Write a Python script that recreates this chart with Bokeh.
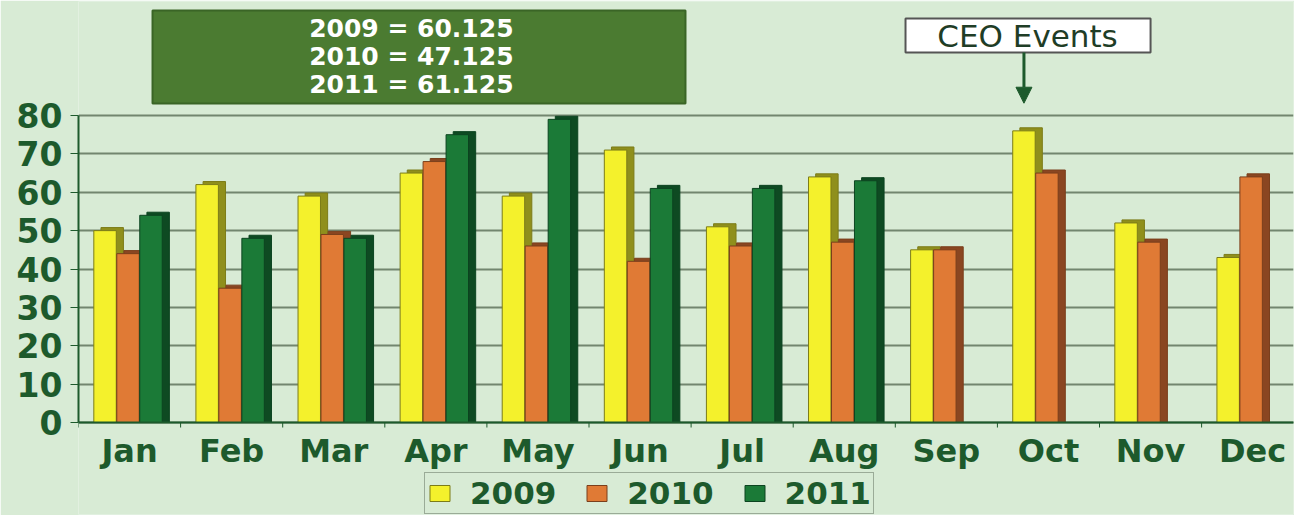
import numpy as np
from bokeh.plotting import figure
from bokeh.models import (ColumnDataSource, Range1d, FixedTicker, Legend, LegendItem,
                          Label, Arrow, NormalHead)
from bokeh.core.properties import value
from bokeh.embed import file_html
from bokeh.resources import INLINE

# ---------------- data ----------------
months = ["Jan", "Feb", "Mar", "Apr", "May", "Jun", "Jul", "Aug", "Sep", "Oct", "Nov", "Dec"]
years = ["2009", "2010", "2011"]
y2009 = [50, 62, 59, 65, 59, 71, 51, 64, 45, 76, 52, 43]
y2010 = [44, 35, 49, 68, 46, 42, 46, 47, 45, 65, 47, 64]
y2011 = [54, 48, 48, 75, 79, 61, 61, 63]          # Jan - Aug only
y_ticks = [0, 10, 20, 30, 40, 50, 60, 70, 80]
note_text = "CEO Events"
note_month = "Oct"

# ---------------- style ----------------
BG = "#d8ebd5"
DARK = "#1d5a2c"
GRID = "#72866f"
front_col = ["#f4f12c", "#e07a35", "#1b7a37"]
back_col = ["#8f8f1c", "#8a4621", "#0e4a22"]
line_col = ["#7c7c18", "#7a3f1c", "#0c4420"]
offsets = [-0.24, -0.015, 0.21]
bar_w = 0.22
dx, dy = 0.07, 0.8

W, H = 1294, 515
p = figure(width=W, height=H, output_backend="svg", toolbar_location=None,
           x_range=Range1d(0, 11.9), y_range=Range1d(-23.97, 109.71),
           min_border_left=78, min_border_right=1, min_border_top=1,
           min_border_bottom=1,
           background_fill_color=BG, border_fill_color=BG)
p.outline_line_color = None

series = [y2009, y2010, y2011]
front_renderers = []
for k, vals in enumerate(series):
    n = len(vals)
    xc = np.arange(n) + 0.5 + offsets[k]
    v = np.array(vals, dtype=float)
    src = ColumnDataSource(dict(x=xc, top=v, xb=xc + dx, topb=v + dy))
    p.vbar(x="xb", top="topb", bottom=0, width=bar_w, source=src,
           fill_color=back_col[k], line_color=line_col[k], line_width=1)
    r = p.vbar(x="x", top="top", bottom=0, width=bar_w, source=src,
               fill_color=front_col[k], line_color=line_col[k], line_width=1)
    front_renderers.append(r)

# ---------------- y axis ----------------
p.yaxis.ticker = FixedTicker(ticks=y_ticks)
p.yaxis.bounds = (0, 80)
p.yaxis.axis_line_color = DARK
p.yaxis.axis_line_width = 2
p.yaxis.major_tick_out = 8
p.yaxis.major_tick_in = 0
p.yaxis.major_tick_line_color = DARK
p.yaxis.minor_tick_line_color = None
p.yaxis.major_label_standoff = 8
p.yaxis.major_label_text_font = "DejaVu Sans"
p.yaxis.major_label_text_font_style = "bold"
p.yaxis.major_label_text_font_size = "33px"
p.yaxis.major_label_text_color = DARK

p.xgrid.grid_line_color = None
p.ygrid.grid_line_color = GRID
p.ygrid.grid_line_width = 2

# ---------------- month axis (drawn through the data scales) ----------------
p.xaxis.visible = False
edges = np.arange(len(months) + 1)
p.segment(x0=[0], y0=[0], x1=[len(months)], y1=[0], line_color=DARK, line_width=2)
p.segment(x0=edges, y0=np.zeros(len(edges)), x1=edges, y1=np.full(len(edges), -1.3),
          line_color=DARK, line_width=1)
msrc = ColumnDataSource(dict(x=np.arange(len(months)) + 0.5, y=np.full(len(months), -7.4),
                             text=months))
p.text(x="x", y="y", text="text", source=msrc, text_align="center",
       text_baseline="middle", text_color=DARK, text_font=value("DejaVu Sans"),
       text_font_style="bold", text_font_size="32px")

# ---------------- averages box ----------------
n_common = len(y2011)
avgs = [np.mean(s[:n_common]) for s in series]
p.quad(left=[0.725], right=[5.945], bottom=[83.13], top=[107.36],
       fill_color="#4b7b31", line_color="#3a6526", line_width=2)
for j, (yr, a) in enumerate(zip(years, avgs)):
    p.add_layout(Label(x=3.26, y=102.67 - j * 7.35, text=f"{yr} = {a:.3f}",
                       text_align="center", text_baseline="middle",
                       text_color="white", text_font="DejaVu Sans",
                       text_font_style="bold", text_font_size="25px"))

# ---------------- CEO events note ----------------
mi = months.index(note_month)
ax = mi + 0.5 + offsets[0]
p.quad(left=[8.10], right=[10.50], bottom=[96.42], top=[105.28],
       fill_color="white", line_color="#555555", line_width=2)
p.add_layout(Label(x=9.295, y=100.85, text=note_text, text_align="center",
                   text_baseline="middle", text_color="#1f3d26",
                   text_font="DejaVu Sans", text_font_size="31px"))
p.add_layout(Arrow(x_start=ax, y_start=96.42, x_end=ax, y_end=83.2,
                   line_color=DARK, line_width=3,
                   end=NormalHead(size=16, fill_color=DARK, line_color=DARK)))

# ---------------- legend ----------------
legend = Legend(items=[LegendItem(label=yr, renderers=[r]) for yr, r in zip(years, front_renderers)],
                orientation="horizontal", location=(346, 0),
                label_text_font="DejaVu Sans", label_text_font_style="bold",
                label_text_font_size="31px", label_text_color=DARK,
                glyph_width=25, glyph_height=20, label_standoff=18, spacing=28,
                padding=2, margin=0,
                background_fill_color=BG, background_fill_alpha=1,
                border_line_color="#5b6b5a", border_line_width=1.5)
p.add_layout(legend)

open("out.html", "w").write(file_html(p, INLINE))
